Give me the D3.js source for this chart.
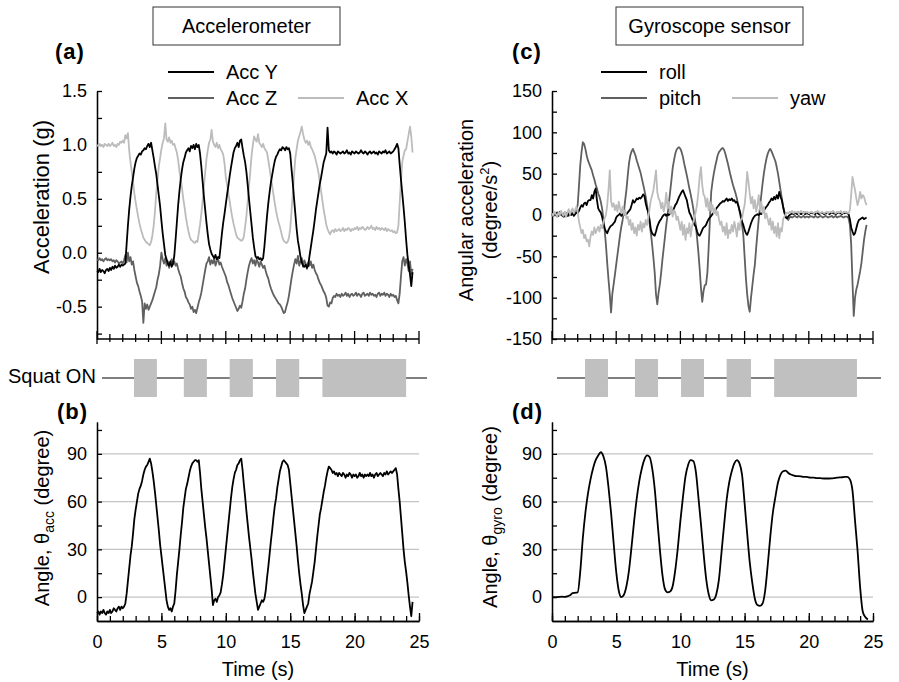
<!DOCTYPE html>
<html>
<head>
<meta charset="utf-8">
<script src="https://cdn.jsdelivr.net/npm/d3@7"></script>
<style>
  body { margin: 0; background: #fff; }
  svg { font-family: Arial, "Liberation Sans", Helvetica, sans-serif; }
</style>
</head>
<body>
<svg id="chart" width="899" height="682"></svg>
<script>
// traces, one value every dt seconds from t = 0
const dt = 0.1
const dtGyroAngle = 0.2

// (a) accelerometer, g
const accY = [
  -0.17,-0.18,-0.15,-0.18,-0.16,-0.17,-0.19,-0.16,-0.15,-0.17,
  -0.14,-0.16,-0.13,-0.15,-0.12,-0.14,-0.13,-0.11,-0.13,-0.11,
  -0.12,-0.11,-0.10,0.08,0.25,0.40,0.52,0.62,0.70,0.78,
  0.84,0.88,0.90,0.92,0.91,0.94,0.95,0.97,0.96,0.99,
  1.01,0.98,1.02,0.95,0.88,0.80,0.73,0.63,0.53,0.43,
  0.30,0.18,0.08,-0.02,-0.06,-0.10,-0.12,-0.08,-0.13,-0.10,
  -0.03,0.12,0.28,0.44,0.57,0.68,0.77,0.84,0.88,0.93,
  0.95,0.97,0.94,0.99,0.97,1.00,0.96,1.01,0.98,1.00,
  0.92,0.80,0.66,0.52,0.40,0.28,0.17,0.08,0.03,-0.01,
  -0.03,-0.05,-0.02,-0.06,-0.04,-0.05,0.06,0.18,0.28,0.36,
  0.45,0.54,0.62,0.71,0.79,0.86,0.93,0.97,0.99,1.02,
  0.98,1.04,1.05,0.97,0.90,0.84,0.75,0.63,0.50,0.38,
  0.26,0.14,0.05,-0.03,-0.05,-0.04,-0.06,-0.05,-0.07,-0.05,
  0.06,0.20,0.34,0.46,0.56,0.65,0.72,0.79,0.85,0.89,
  0.91,0.94,0.96,0.95,0.98,0.97,0.95,0.98,0.96,0.97,
  0.92,0.78,0.65,0.50,0.36,0.22,0.11,0.04,-0.04,-0.09,
  -0.12,-0.13,-0.11,-0.14,-0.12,-0.03,0.05,0.13,0.21,0.30,
  0.40,0.48,0.56,0.64,0.70,0.77,0.84,0.88,0.92,1.16,
  0.95,0.93,0.94,0.92,0.94,0.93,0.91,0.94,0.93,0.92,
  0.93,0.94,0.92,0.93,0.95,0.92,0.93,0.91,0.94,0.93,
  0.92,0.94,0.93,0.92,0.93,0.95,0.93,0.92,0.94,0.93,
  0.91,0.93,0.94,0.92,0.93,0.94,0.92,0.93,0.91,0.94,
  0.93,0.92,0.94,0.93,0.95,0.92,0.93,0.94,0.92,0.93,
  0.94,0.96,0.98,1.01,0.97,0.82,0.68,0.55,0.42,0.28,
  0.12,-0.02,-0.12,-0.20,-0.31,-0.18
]
const accZ = [
  -0.06,-0.07,-0.05,-0.07,-0.06,-0.08,-0.06,-0.05,-0.07,-0.06,
  -0.07,-0.06,-0.08,-0.07,-0.09,-0.07,-0.08,-0.10,-0.09,-0.08,
  -0.10,-0.07,-0.02,-0.09,0.00,-0.08,-0.04,-0.11,-0.08,-0.16,
  -0.22,-0.28,-0.31,-0.36,-0.40,-0.45,-0.65,-0.47,-0.52,-0.48,
  -0.53,-0.50,-0.47,-0.44,-0.40,-0.36,-0.32,-0.25,-0.20,-0.12,
  0.00,-0.06,-0.10,-0.05,-0.12,-0.08,-0.14,-0.09,-0.06,-0.11,
  -0.08,-0.12,-0.10,-0.15,-0.19,-0.22,-0.28,-0.33,-0.36,-0.41,
  -0.43,-0.46,-0.48,-0.52,-0.50,-0.55,-0.53,-0.56,-0.51,-0.46,
  -0.42,-0.37,-0.30,-0.23,-0.16,-0.10,-0.08,-0.04,-0.11,-0.07,
  -0.10,-0.05,-0.12,-0.08,-0.06,-0.11,-0.09,-0.13,-0.16,-0.19,
  -0.22,-0.27,-0.30,-0.34,-0.38,-0.42,-0.45,-0.48,-0.51,-0.54,
  -0.52,-0.49,-0.51,-0.45,-0.38,-0.33,-0.25,-0.18,-0.12,-0.08,
  -0.05,-0.10,-0.07,-0.12,-0.06,-0.09,-0.13,-0.08,-0.11,-0.14,
  -0.12,-0.17,-0.21,-0.24,-0.29,-0.33,-0.36,-0.39,-0.41,-0.43,
  -0.45,-0.47,-0.48,-0.50,-0.53,-0.56,-0.55,-0.50,-0.46,-0.40,
  -0.32,-0.24,-0.17,-0.11,-0.06,-0.10,-0.03,-0.12,-0.08,-0.05,
  -0.13,-0.07,-0.10,-0.15,-0.09,-0.12,-0.08,-0.14,-0.11,-0.16,
  -0.19,-0.21,-0.25,-0.28,-0.30,-0.33,-0.36,-0.38,-0.42,-0.49,
  -0.50,-0.46,-0.47,-0.42,-0.40,-0.41,-0.38,-0.40,-0.39,-0.41,
  -0.38,-0.40,-0.39,-0.37,-0.40,-0.38,-0.41,-0.39,-0.38,-0.40,
  -0.39,-0.37,-0.40,-0.38,-0.39,-0.41,-0.38,-0.37,-0.40,-0.39,
  -0.38,-0.40,-0.37,-0.39,-0.38,-0.40,-0.39,-0.41,-0.38,-0.37,
  -0.40,-0.38,-0.39,-0.37,-0.40,-0.38,-0.39,-0.41,-0.38,-0.40,
  -0.39,-0.41,-0.40,-0.44,-0.47,-0.38,-0.22,-0.08,-0.04,-0.12,
  -0.06,-0.10,-0.17,-0.08,-0.20,-0.15
]
const accX = [
  1.00,0.99,1.01,0.99,1.00,0.98,1.01,1.00,0.99,1.01,
  0.99,1.00,1.02,0.99,1.00,0.98,1.01,1.00,1.03,1.02,
  1.04,1.02,1.09,1.06,1.11,0.95,0.84,0.75,0.66,0.55,
  0.47,0.40,0.33,0.27,0.22,0.18,0.14,0.12,0.10,0.09,
  0.08,0.07,0.10,0.16,0.25,0.38,0.55,0.68,0.80,0.88,
  0.96,1.02,1.06,1.20,1.05,1.03,1.07,1.02,1.04,1.00,
  1.01,0.97,0.93,0.86,0.76,0.68,0.60,0.50,0.42,0.33,
  0.26,0.20,0.15,0.12,0.11,0.10,0.09,0.11,0.10,0.18,
  0.26,0.36,0.48,0.62,0.74,0.87,0.95,1.02,1.05,1.14,
  1.03,1.00,0.98,1.02,0.97,1.00,0.96,0.94,0.91,0.83,
  0.70,0.63,0.55,0.48,0.40,0.33,0.27,0.22,0.17,0.14,
  0.13,0.12,0.11,0.12,0.15,0.24,0.34,0.48,0.62,0.75,
  0.90,1.00,1.08,1.05,1.03,1.10,1.02,1.00,0.98,1.01,
  0.97,0.95,0.93,0.86,0.78,0.70,0.62,0.54,0.46,0.39,
  0.33,0.28,0.24,0.19,0.14,0.11,0.10,0.09,0.10,0.14,
  0.22,0.38,0.55,0.72,0.88,0.96,1.04,1.08,1.12,1.17,
  1.10,1.05,1.02,1.04,1.00,1.03,0.98,0.96,0.93,0.90,
  0.85,0.80,0.74,0.65,0.57,0.48,0.40,0.33,0.26,0.22,
  0.19,0.17,0.20,0.21,0.19,0.22,0.20,0.21,0.22,0.20,
  0.21,0.23,0.20,0.22,0.21,0.23,0.22,0.20,0.22,0.21,
  0.23,0.22,0.24,0.21,0.23,0.22,0.24,0.23,0.21,0.22,
  0.24,0.22,0.23,0.25,0.22,0.23,0.21,0.24,0.22,0.23,
  0.21,0.23,0.22,0.21,0.23,0.20,0.22,0.21,0.20,0.21,
  0.19,0.20,0.18,0.19,0.25,0.46,0.66,0.84,0.90,0.95,
  0.96,1.03,1.10,1.17,1.08,0.93
]

// (b) angle from accelerometer, degree
const thetaAcc = [
  -10,-9,-11,-9,-10,-8,-10,-11,-9,-10,
  -8,-10,-9,-7,-8,-9,-7,-6,-8,-6,
  -7,-6,-4,2,10,18,26,32,40,49,
  55,60,65,68,70,73,77,80,82,83,
  85,87,84,79,73,66,58,50,42,33,
  26,19,12,5,-2,-6,-8,-7,-9,-6,
  -4,4,14,22,30,39,47,56,62,68,
  71,75,79,82,84,85,86,86,85,86,
  78,68,60,52,44,37,29,21,13,5,
  -5,-2,-1,-3,0,1,3,8,14,22,
  30,38,46,54,62,69,74,78,80,83,
  84,86,87,80,71,63,54,46,38,31,
  24,16,9,2,-3,-8,-6,-4,-2,-3,
  -1,4,12,19,27,35,42,50,57,62,
  69,74,79,82,85,86,85,84,83,80,
  72,64,56,48,40,32,23,15,8,2,
  -5,-10,-8,-6,-4,2,6,10,16,22,
  30,38,45,52,56,61,66,70,75,79,
  82,81,80,78,79,77,78,76,78,77,
  76,78,77,75,77,76,78,77,75,77,
  76,77,75,76,78,76,77,75,77,76,
  77,76,78,76,77,75,77,78,76,77,
  78,77,76,78,77,79,77,78,79,78,
  79,80,81,77,68,60,50,40,30,22,
  16,9,1,-6,-12,-3
]

// (c) gyroscope, degree/s^2
const roll = [
  1,-1,2,0,3,-1,1,2,0,-2,
  0,2,-1,1,3,0,2,-1,1,3,
  2,5,9,12,10,14,15,12,17,18,
  18,24,20,28,32,18,8,5,3,-2,
  -10,-16,-20,-22,-18,-15,-13,-12,-10,-8,
  -3,-1,0,2,-1,1,0,2,1,3,
  5,7,12,18,15,17,20,19,21,20,
  22,25,23,14,8,3,-6,-18,-22,-24,
  -25,-20,-14,-10,-7,-5,-2,0,1,-1,
  1,0,2,3,5,8,12,14,18,22,
  25,28,30,26,22,18,10,3,0,-4,
  -8,-12,-14,-20,-24,-25,-22,-18,-15,-14,
  -12,-8,-5,-3,-1,1,3,5,8,10,
  12,14,15,17,16,18,20,17,19,18,
  20,17,18,15,16,12,6,0,-8,-12,
  -18,-22,-24,-20,-15,-10,-6,-3,-1,0,
  1,0,2,1,3,5,8,10,12,15,
  17,20,18,22,19,24,20,28,22,18,
  10,3,-3,-4,-2,0,1,2,1,2,
  2,1,3,2,1,2,3,1,2,2,
  1,2,3,2,2,1,3,2,1,2,
  3,2,1,2,2,3,1,2,3,2,
  2,1,2,3,2,2,1,3,2,3,
  2,1,-5,-15,-20,-24,-22,-16,-10,-6,
  -5,-4,-3,-5,-4,-3
]
const pitch = [
  2,-1,3,0,-2,1,4,0,-1,2,
  -2,1,3,-1,2,4,1,3,2,6,
  12,35,60,76,88,86,80,72,66,62,
  58,54,48,43,37,32,26,22,16,8,
  -4,-18,-36,-58,-78,-96,-118,-95,-84,-72,
  -60,-48,-36,-24,-14,-6,4,18,31,48,
  63,72,77,80,76,72,66,61,56,51,
  44,37,30,22,12,2,-10,-22,-36,-52,
  -70,-96,-108,-94,-84,-70,-54,-40,-26,-12,
  0,14,28,42,57,66,74,79,81,82,
  80,76,70,62,55,48,40,32,25,17,
  8,-2,-12,-28,-45,-65,-88,-105,-92,-85,
  -84,-70,-40,-5,28,40,50,58,65,72,
  76,78,80,81,79,74,68,62,55,48,
  42,36,31,26,20,12,5,-3,-12,-24,
  -50,-76,-96,-110,-117,-100,-86,-72,-60,-40,
  -22,-5,10,24,38,50,60,68,74,78,
  80,77,73,69,65,58,50,40,30,20,
  10,3,-1,-4,-6,-3,-2,-3,-2,-1,
  -2,-3,-1,-2,-3,-2,-1,-3,-2,-2,
  -3,-1,-2,-2,-3,-1,-2,-3,-2,-1,
  -2,-3,-2,-1,-2,-3,-2,-2,-1,-3,
  -2,-1,-3,-2,-2,-1,-2,-3,-2,-2,
  -2,-4,-12,-35,-80,-122,-100,-90,-84,-76,
  -68,-58,-44,-30,-20,-12
]
const yaw = [
  2,-1,4,1,-2,3,0,5,1,-1,
  4,-2,3,7,1,5,8,2,6,10,
  4,-8,-15,-22,-18,-28,-24,-32,-30,-38,
  -26,-20,-24,-15,-22,-18,-14,-20,-12,-16,
  -8,-4,0,12,30,54,17,10,14,6,
  12,4,16,8,2,10,0,6,-4,-2,
  -12,-6,-18,-10,-22,-15,-25,-12,-18,-8,
  -20,-10,-15,-6,-12,-3,8,18,24,30,
  42,54,28,20,17,8,15,4,12,27,
  8,16,2,10,-2,6,3,-6,-2,-10,
  -18,-8,-24,-12,-30,-16,-22,-10,-26,-14,
  -8,-2,4,13,28,46,58,36,25,22,
  10,20,6,16,5,12,2,8,0,4,
  -5,-12,-8,-20,-14,-24,-10,-28,-18,-22,
  -12,-20,-8,-16,-26,-10,-18,-6,-4,5,
  12,28,52,40,26,14,22,8,18,4,
  12,24,6,16,2,10,-4,2,-5,-12,
  -4,-18,-8,-22,-14,-26,-10,-28,-16,-20,
  -5,-2,1,3,2,4,3,5,2,4,
  3,4,2,3,5,3,2,4,3,4,
  2,3,4,3,2,4,3,5,3,2,
  4,3,2,3,4,2,3,4,3,5,
  3,2,4,3,3,5,2,3,4,3,
  3,2,6,24,46,38,30,20,12,18,
  28,20,24,22,16,12
]

// (d) angle from gyroscope, degree (every 0.2 s)
const thetaGyro = [
  0,0,0,0.2,0.3,0.1,0.5,1.2,2.5,2.7,
  3,16,37,53,65,74,81,86,89,91,
  88.5,82,69,53,34,16,4,0,1.5,7,
  17,32,48,62,73,81,86.5,89,88,81,
  68,49,30,14,5,3,3.5,7,17,31,
  48,63,76,83,86,85.5,79,63,46,28,
  12,2,-2,-1.5,2,11,28,45,61,72,
  79,84,86,84,77,59,40,22,9,-1,
  -5,-5.5,-4,4,20,38,53,63,72,77,
  79,79.5,78,77,76.5,76,76,75.8,75.5,75.5,
  75.2,75,75,74.8,74.8,74.6,74.5,74.5,74.5,74.6,
  74.8,75,75.2,75.3,75.5,75.5,74,67,48,29,
  6,-9,-12.5,-14
]

// squat ON windows (s), as drawn under each column
const squatLeft = [[2.87, 4.65], [6.74, 8.53], [10.3, 12.1], [13.9, 15.7], [17.5, 24.0]]
const squatRight = [[2.57, 4.36], [6.46, 8.26], [10.05, 11.84], [13.6, 15.5], [17.3, 23.75]]

const timeTicks = [0, 5, 10, 15, 20, 25]
const timeMinor = d3.range(0, 26, 1)
const accTicks = [1.5, 1.0, 0.5, 0.0, -0.5]
const accMinor = [1.25, 0.75, 0.25, -0.25, -0.75]
const gyroTicks = [150, 100, 50, 0, -50, -100, -150]
const gyroMinor = [125, 75, 25, -25, -75, -125]
const angleTicks = [90, 60, 30, 0]
const angleMinor = [105, 75, 45, 15]

const black = "#000", dark = "#606060", light = "#bcbcbc", boxFill = "#c0c0c0", grid = "#c4c4c4"

// plain hyphen for negatives, like the original figure
const fmt = spec => d => d3.format(spec)(d).replace("\u2212", "-")

const svg = d3.select("#chart")

// scales
const xL = d3.scaleLinear().domain([0, 25]).range([97, 419])
const xR = d3.scaleLinear().domain([0, 25]).range([552, 873])
const yA = d3.scaleLinear().domain([-0.8, 1.5]).range([339, 91])
const yC = d3.scaleLinear().domain([-150, 150]).range([339, 91])
const yB = d3.scaleLinear().domain([-15, 110]).range([621, 422])
const yD = yB.copy()

const trace = (values, step, x, y, color, width, curve) => {
  const line = d3.line()
    .x((d, i) => x(i * step))
    .y(d => y(d))
    .curve(curve || d3.curveLinear)
  svg.append("path")
    .datum(values)
    .attr("fill", "none")
    .attr("stroke", color)
    .attr("stroke-width", width)
    .attr("stroke-linejoin", "round")
    .attr("d", line)
}

const styleAxis = g => {
  g.selectAll("path, line").attr("stroke", "#000").attr("stroke-width", 1.3)
  g.selectAll("text").attr("font-size", 18).attr("font-family", null).attr("fill", "#000")
}

const yAxis = (x, y, major, minor, format) => {
  svg.append("g")
    .attr("transform", `translate(${x.range()[0]},0)`)
    .call(d3.axisLeft(y).tickValues(minor).tickSize(-5).tickFormat("").tickSizeOuter(0))
    .call(styleAxis)
  svg.append("g")
    .attr("transform", `translate(${x.range()[0]},0)`)
    .call(d3.axisLeft(y).tickValues(major).tickSize(-5).tickPadding(10).tickFormat(format).tickSizeOuter(0))
    .call(styleAxis)
}

// bottom axis with ticks crossing the line (top panels)
const crossAxis = (x, y0) => {
  const g = svg.append("g")
  g.append("line").attr("x1", x.range()[0]).attr("x2", x.range()[1])
    .attr("y1", y0).attr("y2", y0)
  g.selectAll("line.t").data(timeMinor).join("line").attr("class", "t")
    .attr("x1", d => x(d)).attr("x2", d => x(d))
    .attr("y1", d => y0 - (d % 5 === 0 ? 8 : 5))
    .attr("y2", d => y0 + (d % 5 === 0 ? 5 : 3))
  g.call(styleAxis)
}

// bottom axis with labels (lower panels)
const timeAxis = (x, y0) => {
  svg.append("g")
    .attr("transform", `translate(0,${y0})`)
    .call(d3.axisBottom(x).tickValues(timeMinor).tickSize(-5).tickFormat("").tickSizeOuter(0))
    .call(styleAxis)
  svg.append("g")
    .attr("transform", `translate(0,${y0})`)
    .call(d3.axisBottom(x).tickValues(timeTicks).tickSize(-8).tickPadding(14).tickSizeOuter(0))
    .call(styleAxis)
  svg.append("text")
    .attr("x", (x.range()[0] + x.range()[1]) / 2).attr("y", 676)
    .attr("text-anchor", "middle").attr("font-size", 20)
    .text("Time (s)")
}

const gridLines = (x, y) => {
  svg.append("g").selectAll("line").data(angleTicks).join("line")
    .attr("x1", x.range()[0]).attr("x2", x.range()[1])
    .attr("y1", d => y(d)).attr("y2", d => y(d))
    .attr("stroke", grid).attr("stroke-width", 1.3)
}

const squatRow = (x, windows) => {
  svg.append("line")
    .attr("x1", x.range()[0] + 5).attr("x2", x.range()[1] + 8)
    .attr("y1", 378).attr("y2", 378)
    .attr("stroke", "#000").attr("stroke-width", 1)
  svg.append("g").selectAll("rect").data(windows).join("rect")
    .attr("x", d => x(d[0])).attr("width", d => x(d[1]) - x(d[0]))
    .attr("y", 359).attr("height", 38)
    .attr("fill", boxFill)
}

const titleBox = (x0, x1, label) => {
  svg.append("rect").attr("x", x0).attr("y", 7).attr("width", x1 - x0).attr("height", 38)
    .attr("fill", "none").attr("stroke", "#333").attr("stroke-width", 1)
  svg.append("text").attr("x", (x0 + x1) / 2).attr("y", 33)
    .attr("text-anchor", "middle").attr("font-size", 20).text(label)
}

const panelTag = (x, y, label) => {
  svg.append("text").attr("x", x).attr("y", y)
    .attr("font-size", 22).attr("font-weight", "bold").attr("letter-spacing", 1)
    .text(label)
}

const legendItem = (x, y, color, label) => {
  svg.append("line").attr("x1", x).attr("x2", x + 46).attr("y1", y).attr("y2", y)
    .attr("stroke", color).attr("stroke-width", 2)
  svg.append("text").attr("x", x + 58).attr("y", y + 7)
    .attr("font-size", 20).text(label)
}

const vTitle = (x, y, size) => {
  return svg.append("text")
    .attr("transform", `translate(${x},${y}) rotate(-90)`)
    .attr("text-anchor", "middle").attr("font-size", size)
}

// ---- titles
titleBox(153, 340, "Accelerometer")
titleBox(616, 803, "Gyroscope sensor")
panelTag(55, 59, "(a)")
panelTag(512, 59, "(c)")
panelTag(57, 419, "(b)")
panelTag(512, 419, "(d)")

// ---- (a) accelerometer
yAxis(xL, yA, accTicks, accMinor, fmt(".1f"))
crossAxis(xL, 339)
trace(accZ, dt, xL, yA, dark, 1.8)
trace(accX, dt, xL, yA, light, 1.8)
trace(accY, dt, xL, yA, black, 1.8)
legendItem(168, 72, black, "Acc Y")
legendItem(168, 98, dark, "Acc Z")
legendItem(298, 98, light, "Acc X")
vTitle(49, 197, 22).text("Acceleration (g)")

// ---- (c) gyroscope
yAxis(xR, yC, gyroTicks, gyroMinor, fmt("d"))
crossAxis(xR, 339)
trace(pitch, dt, xR, yC, dark, 1.8)
trace(roll, dt, xR, yC, black, 1.8)
trace(yaw, dt, xR, yC, light, 1.8)
legendItem(601, 72, black, "roll")
legendItem(601, 98, dark, "pitch")
legendItem(732, 98, light, "yaw")
vTitle(473, 210, 20).text("Angular acceleration")
const t2 = vTitle(497, 210, 20)
t2.append("tspan").text("(degree/s")
t2.append("tspan").attr("font-size", 13).attr("dy", -8).text("2")
t2.append("tspan").attr("dy", 8).text(")")

// ---- squat rows
svg.append("text").attr("x", 8).attr("y", 383).attr("font-size", 20).text("Squat ON")
squatRow(xL, squatLeft)
squatRow(xR, squatRight)

// ---- (b) angle from accelerometer
gridLines(xL, yB)
yAxis(xL, yB, angleTicks, angleMinor, fmt("d"))
timeAxis(xL, 621)
trace(thetaAcc, dt, xL, yB, black, 1.8)
const tb = vTitle(49, 518, 20)
tb.append("tspan").text("Angle, θ")
tb.append("tspan").attr("font-size", 14).attr("dy", 5).text("acc")
tb.append("tspan").attr("dy", -5).text(" (degree)")

// ---- (d) angle from gyroscope
gridLines(xR, yD)
yAxis(xR, yD, angleTicks, angleMinor, fmt("d"))
timeAxis(xR, 621)
trace(thetaGyro, dtGyroAngle, xR, yD, black, 1.8, d3.curveMonotoneX)
const td = vTitle(497, 517, 20)
td.append("tspan").text("Angle, θ")
td.append("tspan").attr("font-size", 14).attr("dy", 5).text("gyro")
td.append("tspan").attr("dy", -5).text(" (degree)")
</script>
